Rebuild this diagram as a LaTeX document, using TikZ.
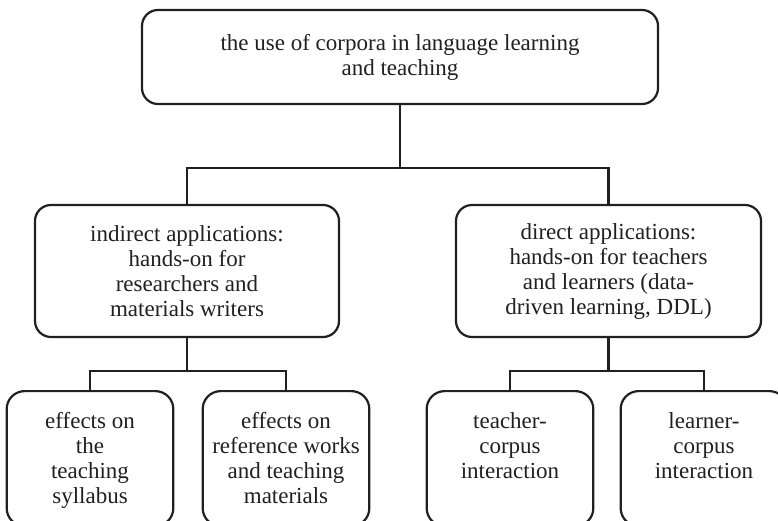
\documentclass[tikz,border=0pt]{standalone}
\usepackage{fontspec}
\setmainfont{Liberation Serif}
\usepackage{tikz}
\usetikzlibrary{positioning}
\definecolor{ink}{RGB}{35,31,32}
\newcommand{\leaftext}[1]{\parbox[t]{160pt}{\centering #1}}
\tikzset{
    x=1pt, y=-1pt, % pixel-like units, y grows downwards
    link/.style={draw=ink, line width=2.2pt}, % tree connectors
    block/.style={draw=ink, line width=2.2pt, rounded corners=16pt, align=center,
        font=\fontsize{23pt}{25pt}\selectfont, text=ink}, % boxes of the tree
    leaf/.style={draw=ink, line width=2.2pt, rounded corners=18pt,
        font=\fontsize{23pt}{25pt}\selectfont, text=ink,
        anchor=north, minimum width=166pt,
        text height=33pt, text depth=94pt, inner ysep=4pt}, % boxes of the last row
}
\begin{document}
\begin{tikzpicture}
    \clip (0,0) rectangle (778,520);

    \node[block, minimum width=516pt, minimum height=94pt] (root) at (400,57)
        {the use of corpora in language learning\\and teaching};

    \node[block, minimum width=304pt, minimum height=132pt] (indirect) at (187,271)
        {indirect applications:\\hands-on for\\researchers and\\materials writers};
    \node[block, minimum width=305pt, minimum height=132pt] (direct) at (608.5,271)
        {direct applications:\\hands-on for teachers\\and learners (data-\\driven learning, DDL)};

    \node[leaf] (syllabus) at (90,390) {\leaftext{effects on\\the\\teaching\\syllabus}};
    \node[leaf] (materials) at (286,390) {\leaftext{effects on\\reference works\\and teaching\\materials}};
    \node[leaf] (teacher) at (510,390) {\leaftext{teacher-\\corpus\\interaction}};
    \node[leaf] (learner) at (704,390) {\leaftext{learner-\\corpus\\interaction}};

    \coordinate (split) at (400,168);
    \coordinate (splitL) at (187,371);
    \coordinate (splitR) at (608.5,371);

    \draw[link] (root.south) -- (split);
    \draw[link] (indirect.north) |- (split) -| (direct.north);
    \draw[link] (indirect.south) -- (splitL);
    \draw[link] (syllabus.north) |- (splitL) -| (materials.north);
    \draw[link] (direct.south) -- (splitR);
    \draw[link] (teacher.north) |- (splitR) -| (learner.north);
\end{tikzpicture}
\end{document}
